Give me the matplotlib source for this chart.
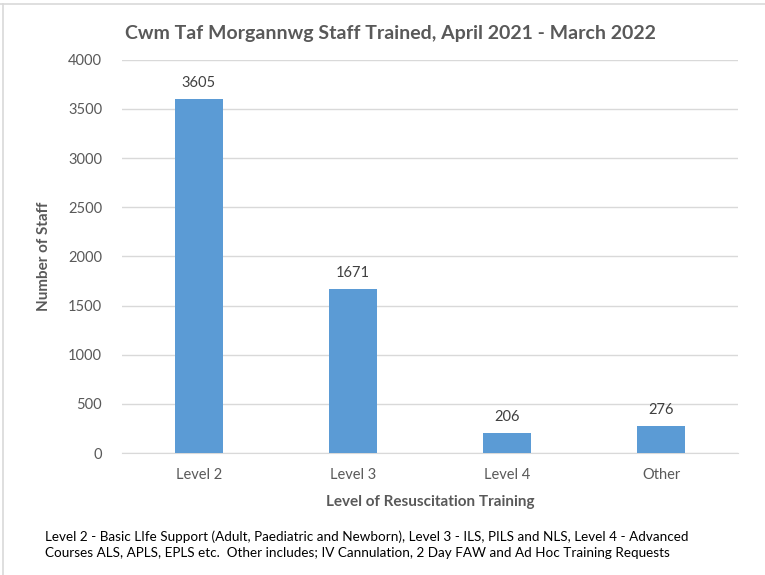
import matplotlib.pyplot as plt
import numpy as np
from matplotlib.lines import Line2D

categories = ["Level 2", "Level 3", "Level 4", "Other"]
staff = [3605, 1671, 206, 276]
yticks = [0, 500, 1000, 1500, 2000, 2500, 3000, 3500, 4000]

plt.rcParams['font.family'] = ['Lato', 'DejaVu Sans']

fig = plt.figure(figsize=(7.65, 5.75), dpi=100)
ax = fig.add_axes([0.159, 0.212, 0.806, 0.684])

x = np.arange(len(categories))
bars = ax.bar(x, staff, width=0.31, color='#5B9BD5', zorder=3)
for b, v in zip(bars, staff):
    ax.text(b.get_x() + b.get_width() / 2, v + 90, str(v), ha='center', va='bottom',
            fontsize=10.5, color='#404040')

ax.set_xlim(-0.5, len(categories) - 0.5)
ax.set_ylim(0, 4000)
ax.set_yticks(yticks)
ax.set_xticks(x)
ax.set_xticklabels(categories)
ax.tick_params(axis='both', length=0, labelsize=10.5, labelcolor='#595959')
ax.tick_params(axis='y', pad=14)
ax.tick_params(axis='x', pad=11)
ax.grid(axis='y', color='#D9D9D9', linewidth=1, zorder=0)
for s in ['top', 'right', 'left']:
    ax.spines[s].set_visible(False)
ax.spines['bottom'].set_color('#D9D9D9')

ax.set_xlabel("Level of Resuscitation Training", fontsize=11, fontweight='bold',
              color='#595959', labelpad=9)
ax.set_ylabel("Number of Staff", fontsize=11, fontweight='bold', color='#595959',
              labelpad=12)
fig.text(0.511, 0.941, "Cwm Taf Morgannwg Staff Trained, April 2021 - March 2022",
         ha='center', va='center', fontsize=14, fontweight='bold', color='#595959')

fig.text(0.059, 0.027,
         "Level 2 - Basic LIfe Support (Adult, Paediatric and Newborn), Level 3 - ILS, PILS and NLS, Level 4 - Advanced\n"
         "Courses ALS, APLS, EPLS etc.  Other includes; IV Cannulation, 2 Day FAW and Ad Hoc Training Requests",
         ha='left', va='bottom', fontsize=9.7, color='black', linespacing=1.45)

fig.add_artist(Line2D([0, 1], [0.993, 0.993], color='#D9D9D9', linewidth=1.2,
                      transform=fig.transFigure))
fig.add_artist(Line2D([0.004, 0.004], [0, 0.993], color='#D9D9D9', linewidth=1.2,
                      transform=fig.transFigure))

fig.savefig("out.png", dpi=100)
